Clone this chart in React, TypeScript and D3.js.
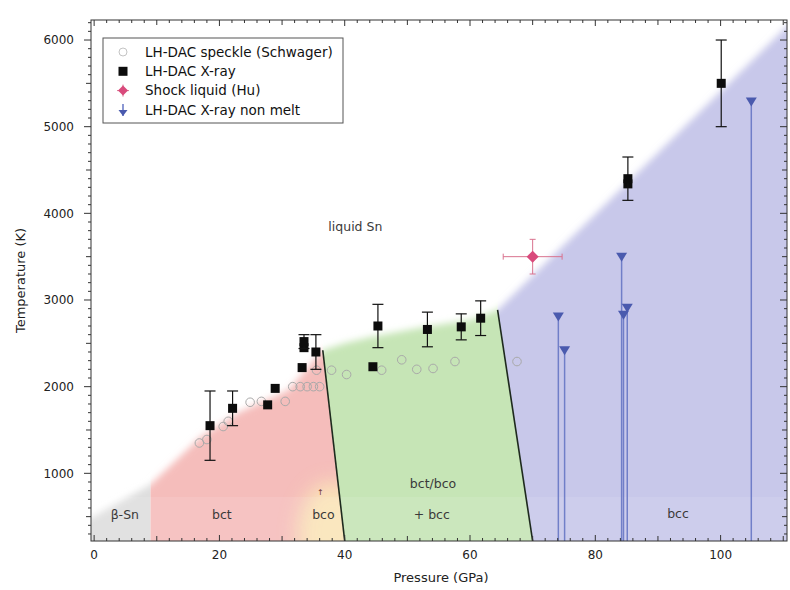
import React from "react";
import * as d3 from "d3";

const WIDTH = 790;
const HEIGHT = 590;
const plot = { left: 91, right: 787, top: 20, bottom: 541 };

const pressureExtent: [number, number] = [-0.5, 110.6];
const temperatureExtent: [number, number] = [219, 6231];
const pressureTicks = [0, 20, 40, 60, 80, 100];
const temperatureTicks = [1000, 2000, 3000, 4000, 5000, 6000];

// LH-DAC speckle (Schwager)
const speckleP = [16.8, 18.0, 20.6, 21.4, 24.9, 26.7, 30.5, 31.7, 32.9, 34.0, 35.0, 36.0, 35.5, 37.9, 40.3, 45.9, 49.1, 51.5, 54.1, 57.6, 67.5];
const speckleT = [1350, 1390, 1540, 1600, 1820, 1830, 1830, 2000, 2000, 2000, 2000, 2000, 2190, 2190, 2140, 2190, 2310, 2200, 2210, 2290, 2290];

// LH-DAC X-ray melting points
const xrayP = [18.5, 22.1, 27.7, 28.9, 33.2, 33.5, 33.5, 35.4, 44.5, 45.3, 53.2, 58.6, 61.7, 85.2, 85.2, 100.1];
const xrayT = [1550, 1750, 1790, 1980, 2220, 2450, 2520, 2400, 2230, 2700, 2660, 2690, 2790, 4340, 4400, 5500];
const xrayErr = [400, 200, 0, 0, 0, 0, 80, 200, 0, 250, 200, 150, 200, 0, 250, 500];

// Shock liquid (Hu)
const shockP = [70.0];
const shockT = [3500];
const shockErrP = [4.7];
const shockErrT = [200];

// LH-DAC X-ray non melt
const nonMeltP = [74.1, 75.1, 84.2, 84.5, 85.1, 104.9];
const nonMeltT = [2810, 2420, 3500, 2830, 2910, 5290];

// Melting curve bounding the solid phases
const meltP = [-3, 0, 9, 17, 23, 31, 36.5, 40, 44, 52, 60, 64.4, 113];
const meltT = [400, 505, 870, 1420, 1700, 1960, 2420, 2500, 2570, 2680, 2770, 2885, 6330];

// Solid-solid phase boundaries
const bctBoundaryP = [36.5, 40.0];
const bctBoundaryT = [2420, 219];
const bccBoundaryP = [64.4, 70.0];
const bccBoundaryT = [2885, 219];
const betaLimitP = 9;

// bco glow near the bottom of the bct/bco boundary
const bcoGlowP = [38.0];
const bcoGlowT = [300];

const phaseLabels = ["liquid Sn", "β-Sn", "bct", "bco", "bct/bco", "+ bcc", "bcc"];
const phaseLabelP = [41.7, 4.9, 20.4, 36.6, 54.1, 53.9, 93.2];
const phaseLabelT = [3842, 519, 519, 519, 877, 519, 539];

const legendLabels = ["LH-DAC speckle (Schwager)", "LH-DAC X-ray", "Shock liquid (Hu)", "LH-DAC X-ray non melt"];

const FONT = "'DejaVu Sans', Verdana, sans-serif";

export default function App() {
  const x = d3.scaleLinear().domain(pressureExtent).range([plot.left, plot.right]);
  const y = d3.scaleLinear().domain(temperatureExtent).range([plot.bottom, plot.top]);

  const line = d3
    .line<[number, number]>()
    .x((d) => x(d[0]))
    .y((d) => y(d[1]));

  const floorT = -500;
  const ceilT = 7000;
  const extendAt = (ps: number[], ts: number[], t: number) =>
    ps[0] + ((t - ts[0]) * (ps[1] - ps[0])) / (ts[1] - ts[0]);
  const bctFloorP = extendAt(bctBoundaryP, bctBoundaryT, floorT);
  const bccFloorP = extendAt(bccBoundaryP, bccBoundaryT, floorT);

  const meltArea: [number, number][] = [
    ...meltP.map((p, i) => [p, meltT[i]] as [number, number]),
    [meltP[meltP.length - 1], floorT],
    [meltP[0], floorT],
  ];

  const columns: { id: string; color: string; poly: [number, number][] }[] = [
    {
      id: "col-beta",
      color: "#dedede",
      poly: [[-5, floorT], [betaLimitP, floorT], [betaLimitP, ceilT], [-5, ceilT]],
    },
    {
      id: "col-bct",
      color: "#f5bdbb",
      poly: [[betaLimitP, floorT], [bctFloorP, floorT], [bctBoundaryP[0], bctBoundaryT[0]], [bctBoundaryP[0], ceilT], [betaLimitP, ceilT]],
    },
    {
      id: "col-mixed",
      color: "#c6e5b6",
      poly: [[bctFloorP, floorT], [bccFloorP, floorT], [bccBoundaryP[0], bccBoundaryT[0]], [bccBoundaryP[0], ceilT], [bctBoundaryP[0], ceilT], [bctBoundaryP[0], bctBoundaryT[0]]],
    },
    {
      id: "col-bcc",
      color: "#c8c8ea",
      poly: [[bccFloorP, floorT], [120, floorT], [120, ceilT], [bccBoundaryP[0], ceilT], [bccBoundaryP[0], bccBoundaryT[0]]],
    },
  ];

  const xMinor = d3.range(0, 111, 2);
  const yMinor = d3.range(300, 6201, 100);
  const pxPerGPa = x(1) - x(0);
  const pxPerK = y(0) - y(1);

  const sq = 9;
  const cap = 5.5;

  return (
    <svg width={WIDTH} height={HEIGHT} style={{ display: "block", position: "absolute", left: 0, top: 0 }} fontFamily={FONT}>
      <defs>
        <clipPath id="plotClip">
          <rect x={plot.left} y={plot.top} width={plot.right - plot.left} height={plot.bottom - plot.top} />
        </clipPath>
        {columns.map((c) => (
          <clipPath id={c.id} key={c.id}>
            <path d={line(c.poly) + "Z"} />
          </clipPath>
        ))}
        <filter id="soft" x="-10%" y="-10%" width="120%" height="120%">
          <feGaussianBlur stdDeviation={3.5} />
        </filter>
        <filter id="glow" x="-50%" y="-50%" width="200%" height="200%">
          <feGaussianBlur stdDeviation={10} />
        </filter>
      </defs>

      <rect x={0} y={0} width={WIDTH} height={HEIGHT} fill="#ffffff" />

      {/* phase fields */}
      <g clipPath="url(#plotClip)">
        {columns.map((c) => (
          <g key={c.id} clipPath={`url(#${c.id})`}>
            <path d={line(meltArea) + "Z"} fill={c.color} filter="url(#soft)" />
          </g>
        ))}
        <g clipPath="url(#col-bct)">
          <ellipse
            cx={x(bcoGlowP[0])}
            cy={y(bcoGlowT[0])}
            rx={5.5 * pxPerGPa}
            ry={600 * pxPerK}
            fill="#fbe9b8"
            opacity={0.9}
            filter="url(#glow)"
          />
        </g>
        <rect x={plot.left} y={y(728)} width={plot.right - plot.left} height={plot.bottom - y(728)} fill="#ffffff" opacity={0.1} />

        {/* phase boundaries */}
        <path d={line(bctBoundaryP.map((p, i) => [p, bctBoundaryT[i]] as [number, number])) || ""} stroke="#1e2a1e" strokeWidth={1.6} fill="none" />
        <path d={line(bccBoundaryP.map((p, i) => [p, bccBoundaryT[i]] as [number, number])) || ""} stroke="#1e2a1e" strokeWidth={1.6} fill="none" />

        {/* non melt stems */}
        {nonMeltP.map((p, i) => (
          <line key={`s${i}`} x1={x(p)} x2={x(p)} y1={y(nonMeltT[i])} y2={plot.bottom} stroke="#5b6cc0" strokeWidth={1.5} opacity={0.8} />
        ))}
      </g>

      {/* phase labels */}
      {phaseLabels.map((t, i) => (
        <text key={t} x={x(phaseLabelP[i])} y={y(phaseLabelT[i])} dy="0.35em" textAnchor="middle" fontSize={12.5} fill="#3a3a3a">
          {t}
        </text>
      ))}
      <text x={x(36.1)} y={y(783)} dy="0.35em" textAnchor="middle" fontSize={8} fill="#6a3030">
        ↑
      </text>

      {/* speckle */}
      {speckleP.map((p, i) => (
        <circle key={`c${i}`} cx={x(p)} cy={y(speckleT[i])} r={4.3} fill="none" stroke="#a9a9a9" strokeWidth={1} />
      ))}

      {/* non melt triangles */}
      {nonMeltP.map((p, i) => {
        const cx = x(p);
        const cy = y(nonMeltT[i]);
        return <path key={`t${i}`} d={`M${cx - 5.5},${cy - 4}L${cx + 5.5},${cy - 4}L${cx},${cy + 5}Z`} fill="#4a5aae" />;
      })}

      {/* X-ray points */}
      {xrayP.map((p, i) => {
        const cx = x(p);
        const cy = y(xrayT[i]);
        const e = xrayErr[i];
        return (
          <g key={`x${i}`}>
            {e > 0 && (
              <g stroke="#111" strokeWidth={1.2}>
                <line x1={cx} x2={cx} y1={y(xrayT[i] + e)} y2={y(xrayT[i] - e)} />
                <line x1={cx - cap} x2={cx + cap} y1={y(xrayT[i] + e)} y2={y(xrayT[i] + e)} />
                <line x1={cx - cap} x2={cx + cap} y1={y(xrayT[i] - e)} y2={y(xrayT[i] - e)} />
              </g>
            )}
            <rect x={cx - sq / 2} y={cy - sq / 2} width={sq} height={sq} fill="#0c0c0c" />
          </g>
        );
      })}

      {/* shock point */}
      {shockP.map((p, i) => {
        const cx = x(p);
        const cy = y(shockT[i]);
        const x0 = x(p - shockErrP[i]);
        const x1 = x(p + shockErrP[i]);
        const y0 = y(shockT[i] + shockErrT[i]);
        const y1 = y(shockT[i] - shockErrT[i]);
        return (
          <g key={`h${i}`}>
            <g stroke="#d9738f" strokeWidth={1}>
              <line x1={x0} x2={x1} y1={cy} y2={cy} />
              <line x1={x0} x2={x0} y1={cy - 3} y2={cy + 3} />
              <line x1={x1} x2={x1} y1={cy - 3} y2={cy + 3} />
              <line x1={cx} x2={cx} y1={y0} y2={y1} />
              <line x1={cx - 3} x2={cx + 3} y1={y0} y2={y0} />
              <line x1={cx - 3} x2={cx + 3} y1={y1} y2={y1} />
            </g>
            <path d={`M${cx},${cy - 6}L${cx + 6},${cy}L${cx},${cy + 6}L${cx - 6},${cy}Z`} fill="#d94a7c" />
          </g>
        );
      })}

      {/* frame and ticks */}
      <rect x={plot.left} y={plot.top} width={plot.right - plot.left} height={plot.bottom - plot.top} fill="none" stroke="#333" strokeWidth={1} />
      <g stroke="#333" strokeWidth={1}>
        {xMinor.map((p) => {
          const major = p % 20 === 0;
          const len = major ? 6 : p % 10 === 0 ? 5 : 3;
          return (
            <g key={`xt${p}`}>
              <line x1={x(p)} x2={x(p)} y1={plot.bottom} y2={plot.bottom - len} />
              <line x1={x(p)} x2={x(p)} y1={plot.top} y2={plot.top + len} />
            </g>
          );
        })}
        {yMinor.map((t) => {
          const major = t % 1000 === 0;
          const len = major ? 7 : t % 500 === 0 ? 5 : 3;
          return (
            <g key={`yt${t}`}>
              <line x1={plot.left - len} x2={plot.left} y1={y(t)} y2={y(t)} />
              <line x1={plot.right} x2={plot.right - len} y1={y(t)} y2={y(t)} />
            </g>
          );
        })}
      </g>

      {pressureTicks.map((p) => (
        <text key={`xl${p}`} x={x(p)} y={plot.bottom + 18} textAnchor="middle" fontSize={12} fill="#222">
          {p}
        </text>
      ))}
      {temperatureTicks.map((t) => (
        <text key={`yl${t}`} x={plot.left - 17} y={y(t)} dy="0.36em" textAnchor="end" fontSize={12} fill="#222">
          {t}
        </text>
      ))}

      <text x={(plot.left + plot.right) / 2 + 2} y={582} textAnchor="middle" fontSize={13} fill="#222">
        Pressure (GPa)
      </text>
      <text transform={`translate(25,${(plot.top + plot.bottom) / 2}) rotate(-90)`} textAnchor="middle" fontSize={13} fill="#222">
        Temperature (K)
      </text>

      {/* legend */}
      <g>
        <rect x={103} y={38} width={240} height={85} fill="#ffffff" stroke="#555" strokeWidth={1} />
        {legendLabels.map((label, i) => {
          const ly = 52 + i * 19.3;
          const sx = 123;
          let symbol: React.ReactNode = null;
          if (i === 0) symbol = <circle cx={sx} cy={ly} r={4} fill="none" stroke="#c4c4c4" />;
          if (i === 1) symbol = <rect x={sx - 4.5} y={ly - 4.5} width={9} height={9} fill="#0c0c0c" />;
          if (i === 2)
            symbol = (
              <g>
                <line x1={sx - 6} x2={sx + 6} y1={ly} y2={ly} stroke="#d9738f" />
                <line x1={sx} x2={sx} y1={ly - 6} y2={ly + 6} stroke="#d9738f" />
                <path d={`M${sx},${ly - 5}L${sx + 5},${ly}L${sx},${ly + 5}L${sx - 5},${ly}Z`} fill="#d94a7c" />
              </g>
            );
          if (i === 3)
            symbol = (
              <g>
                <line x1={sx} x2={sx} y1={ly - 6} y2={ly + 6} stroke="#5b6cc0" strokeWidth={1.4} />
                <path d={`M${sx - 4.5},${ly}L${sx + 4.5},${ly}L${sx},${ly + 6}Z`} fill="#4a5aae" />
              </g>
            );
          return (
            <g key={label}>
              {symbol}
              <text x={145} y={ly} dy="0.36em" fontSize={13.5} fill="#111">
                {label}
              </text>
            </g>
          );
        })}
      </g>
    </svg>
  );
}
